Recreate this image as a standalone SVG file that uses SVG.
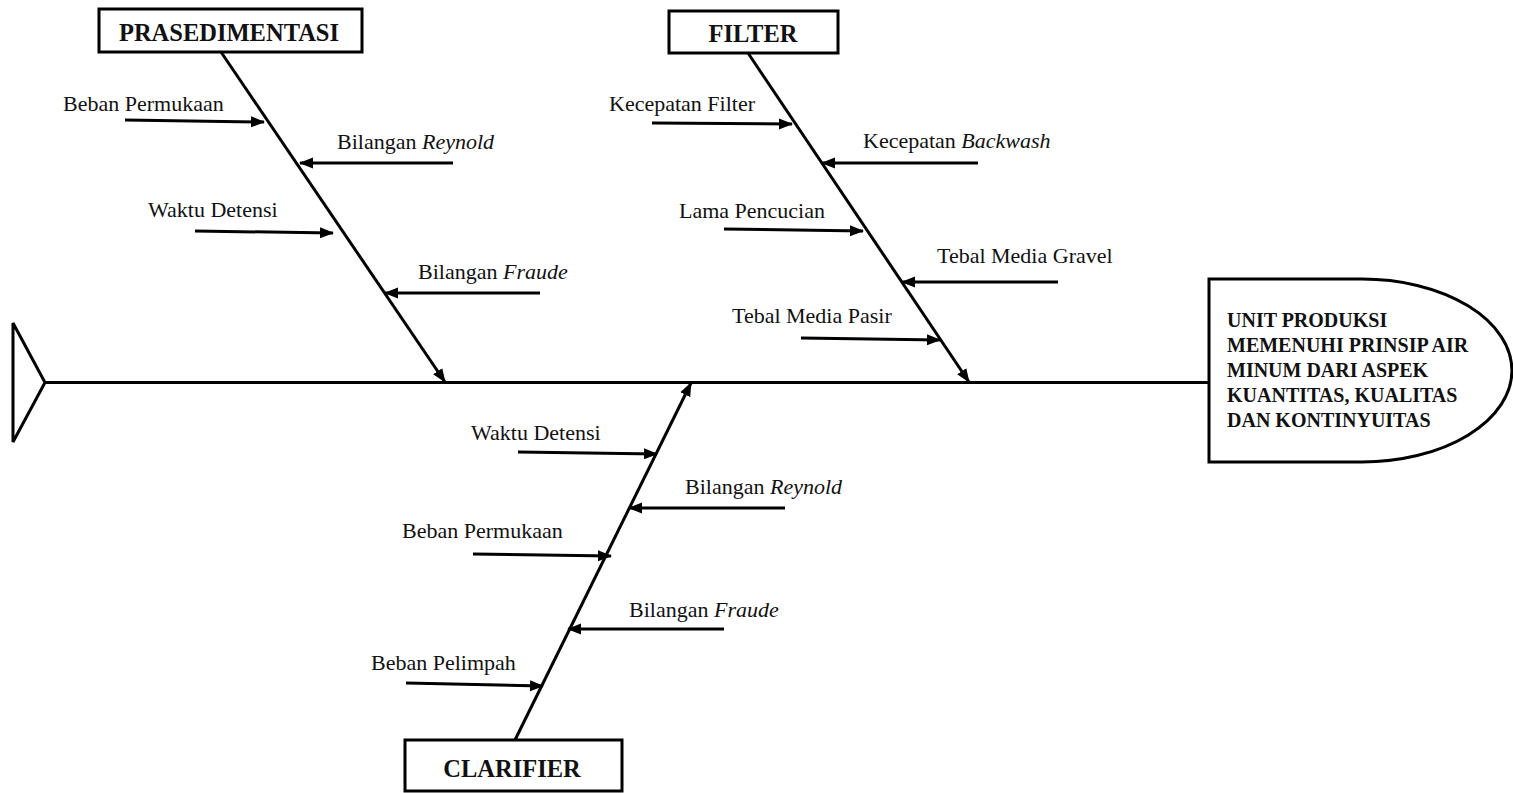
<svg xmlns="http://www.w3.org/2000/svg" width="1513" height="793" viewBox="0 0 1513 793">
  <defs>
    <marker id="ah" markerUnits="userSpaceOnUse" markerWidth="14" markerHeight="12" refX="13" refY="6" orient="auto" viewBox="0 0 14 12">
      <path d="M0,0.5 L14,6 L0,11.5 Z" fill="#000"/>
    </marker>
  </defs>
  <style>
    .ln { stroke:#000; stroke-width:3; fill:none; }
    .ar { stroke:#000; stroke-width:3; fill:none; marker-end:url(#ah); }
    .box { stroke:#000; stroke-width:3; fill:#fff; }
    .lbl { font-family:"Liberation Serif","Times New Roman",serif; font-size:22px; fill:#111; }
    .hd { font-family:"Liberation Serif","Times New Roman",serif; font-size:24.5px; font-weight:bold; fill:#111; text-anchor:middle; }
    .eff { font-family:"Liberation Serif","Times New Roman",serif; font-size:20px; font-weight:bold; fill:#111; }
    .it { font-style:italic; }
  </style>
  <rect width="1513" height="793" fill="#fff"/>

  <g id="connectors">
    <line class="ln" x1="45" y1="382.5" x2="1209" y2="382.5"/>
    <line class="ar" x1="221" y1="52" x2="445" y2="382"/>
    <line class="ar" x1="748" y1="53" x2="969" y2="382"/>
    <line class="ar" x1="515" y1="740" x2="691" y2="383"/>
    <line class="ar" x1="125" y1="120" x2="264" y2="122"/>
    <line class="ar" x1="453" y1="163" x2="300" y2="163"/>
    <line class="ar" x1="195" y1="231" x2="333" y2="233"/>
    <line class="ar" x1="540" y1="293" x2="385" y2="293"/>
    <line class="ar" x1="652" y1="123" x2="792" y2="124"/>
    <line class="ar" x1="978" y1="163" x2="822" y2="163"/>
    <line class="ar" x1="724" y1="229" x2="863" y2="231"/>
    <line class="ar" x1="1058" y1="282" x2="902" y2="282"/>
    <line class="ar" x1="801" y1="338" x2="940" y2="340"/>
    <line class="ar" x1="518" y1="452" x2="657" y2="454"/>
    <line class="ar" x1="785" y1="508" x2="629" y2="508"/>
    <line class="ar" x1="473" y1="554" x2="611" y2="556"/>
    <line class="ar" x1="724" y1="629" x2="568" y2="629"/>
    <line class="ar" x1="406" y1="683" x2="543" y2="686"/>
  </g>

  <g id="tail">
    <path class="ln" d="M13,323 L45,382.5 L13,442 Z"/>
  </g>

  <g id="head">
    <path class="box" d="M1209,279 L1362,279 A150,91.5 0 0 1 1362,462 L1209,462 Z"/>
    <text class="eff" x="1227" y="327">UNIT PRODUKSI</text>
    <text class="eff" x="1227" y="352">MEMENUHI PRINSIP AIR</text>
    <text class="eff" x="1227" y="377">MINUM DARI ASPEK</text>
    <text class="eff" x="1227" y="402">KUANTITAS, KUALITAS</text>
    <text class="eff" x="1227" y="427">DAN KONTINYUITAS</text>
  </g>

  <g id="prasedimentasi">
    <rect class="box" x="99" y="9" width="263" height="43"/>
    <text class="hd" x="229" y="41">PRASEDIMENTASI</text>
  </g>
  <g id="filter">
    <rect class="box" x="669" y="11" width="169" height="42"/>
    <text class="hd" x="753" y="42">FILTER</text>
  </g>
  <g id="clarifier">
    <rect class="box" x="405" y="740" width="217" height="51"/>
    <text class="hd" x="512" y="777">CLARIFIER</text>
  </g>

  <g id="prasedimentasi-causes">
    <text class="lbl" x="63" y="111">Beban Permukaan</text>
    <text class="lbl" x="337" y="149">Bilangan <tspan class="it">Reynold</tspan></text>
    <text class="lbl" x="148" y="217">Waktu Detensi</text>
    <text class="lbl" x="418" y="279">Bilangan <tspan class="it">Fraude</tspan></text>
  </g>
  <g id="filter-causes">
    <text class="lbl" x="609" y="111">Kecepatan Filter</text>
    <text class="lbl" x="863" y="148">Kecepatan <tspan class="it">Backwash</tspan></text>
    <text class="lbl" x="679" y="218">Lama Pencucian</text>
    <text class="lbl" x="937" y="263">Tebal Media Gravel</text>
    <text class="lbl" x="732" y="323">Tebal Media Pasir</text>
  </g>
  <g id="clarifier-causes">
    <text class="lbl" x="471" y="440">Waktu Detensi</text>
    <text class="lbl" x="685" y="494">Bilangan <tspan class="it">Reynold</tspan></text>
    <text class="lbl" x="402" y="538">Beban Permukaan</text>
    <text class="lbl" x="629" y="617">Bilangan <tspan class="it">Fraude</tspan></text>
    <text class="lbl" x="371" y="670">Beban Pelimpah</text>
  </g>
</svg>
